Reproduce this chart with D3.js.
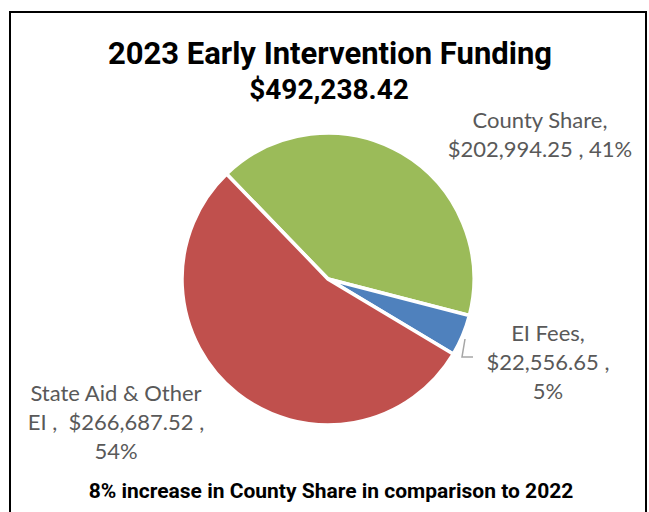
<!doctype html>
<html>
<head>
<meta charset="utf-8">
<script src="https://cdn.jsdelivr.net/npm/d3@7"></script>
<style>
  body { margin: 0; background: #fff; }
  .title { font-family: Roboto, "Liberation Sans", sans-serif; font-weight: bold; fill: #000; }
  .lbl { font-family: Lato, "Open Sans", sans-serif; fill: #595959; font-size: 22px; }
</style>
</head>
<body>
<svg id="chart" width="649" height="512"></svg>
<script>
  // data
  var categories = ["County Share", "EI Fees", "State Aid & Other EI"];
  var amounts = [202994.25, 22556.65, 266687.52];
  var colors = ["#9BBB59", "#4F81BD", "#C0504D"];
  var titleLines = ["2023 Early Intervention Funding", "$492,238.42"];
  var footnote = "8% increase in County Share in comparison to 2022";

  var svg = d3.select("#chart"),
      width = +svg.attr("width"),
      height = +svg.attr("height");

  // chart frame (bottom edge runs off the picture)
  svg.append("rect")
     .attr("x", 10).attr("y", 12)
     .attr("width", 636).attr("height", 520)
     .attr("fill", "#fff")
     .attr("stroke", "#000")
     .attr("stroke-width", 2);

  svg.append("text").attr("class", "title")
     .attr("x", 330).attr("y", 64)
     .attr("text-anchor", "middle")
     .attr("font-size", "31px")
     .text(titleLines[0]);
  svg.append("text").attr("class", "title")
     .attr("x", 329).attr("y", 99)
     .attr("text-anchor", "middle")
     .attr("font-size", "28px")
     .text(titleLines[1]);

  var data = categories.map(function(c, i) { return { name: c, value: amounts[i], color: colors[i] }; });
  var total = d3.sum(amounts);

  var start = -44 * Math.PI / 180;
  var pie = d3.pie()
      .sort(null)
      .value(function(d) { return d.value; })
      .startAngle(start)
      .endAngle(start + 2 * Math.PI);

  var arc = d3.arc().innerRadius(0).outerRadius(146);

  var g = svg.append("g").attr("transform", "translate(328,279)");

  g.selectAll("path")
   .data(pie(data))
   .enter().append("path")
   .attr("d", arc)
   .attr("fill", function(d) { return d.data.color; })
   .attr("stroke", "#fff")
   .attr("stroke-width", 3.5)
   .attr("stroke-linejoin", "miter");

  var money = d3.format("$,.2f"),
      pct = d3.format(".0%");

  function share(i) { return pct(amounts[i] / total); }

  // label lines wrapped the way the picture has them
  var labels = [
    { x: 540, y: 128, lines: [categories[0] + ",", money(amounts[0]) + " , " + share(0)] },
    { x: 548, y: 341, lines: [categories[1] + ",", money(amounts[1]) + " ,", share(1)] },
    { x: 116, y: 401, lines: ["State Aid & Other", "EI ,  " + money(amounts[2]) + " ,", share(2)] }
  ];

  labels.forEach(function(l) {
    var t = svg.append("text").attr("class", "lbl")
       .attr("text-anchor", "middle")
       .attr("x", l.x).attr("y", l.y)
       .attr("xml:space", "preserve");
    l.lines.forEach(function(s, j) {
      t.append("tspan").attr("x", l.x).attr("y", l.y + j * 29).text(s);
    });
  });

  // leader line for the small slice
  svg.append("path")
     .attr("d", "M465,339L462,357L473,357")
     .attr("fill", "none")
     .attr("stroke", "#A6A6A6")
     .attr("stroke-width", 1.5);

  svg.append("text").attr("class", "title")
     .attr("x", 331).attr("y", 498)
     .attr("text-anchor", "middle")
     .attr("font-size", "21px")
     .text(footnote);
</script>
</body>
</html>
